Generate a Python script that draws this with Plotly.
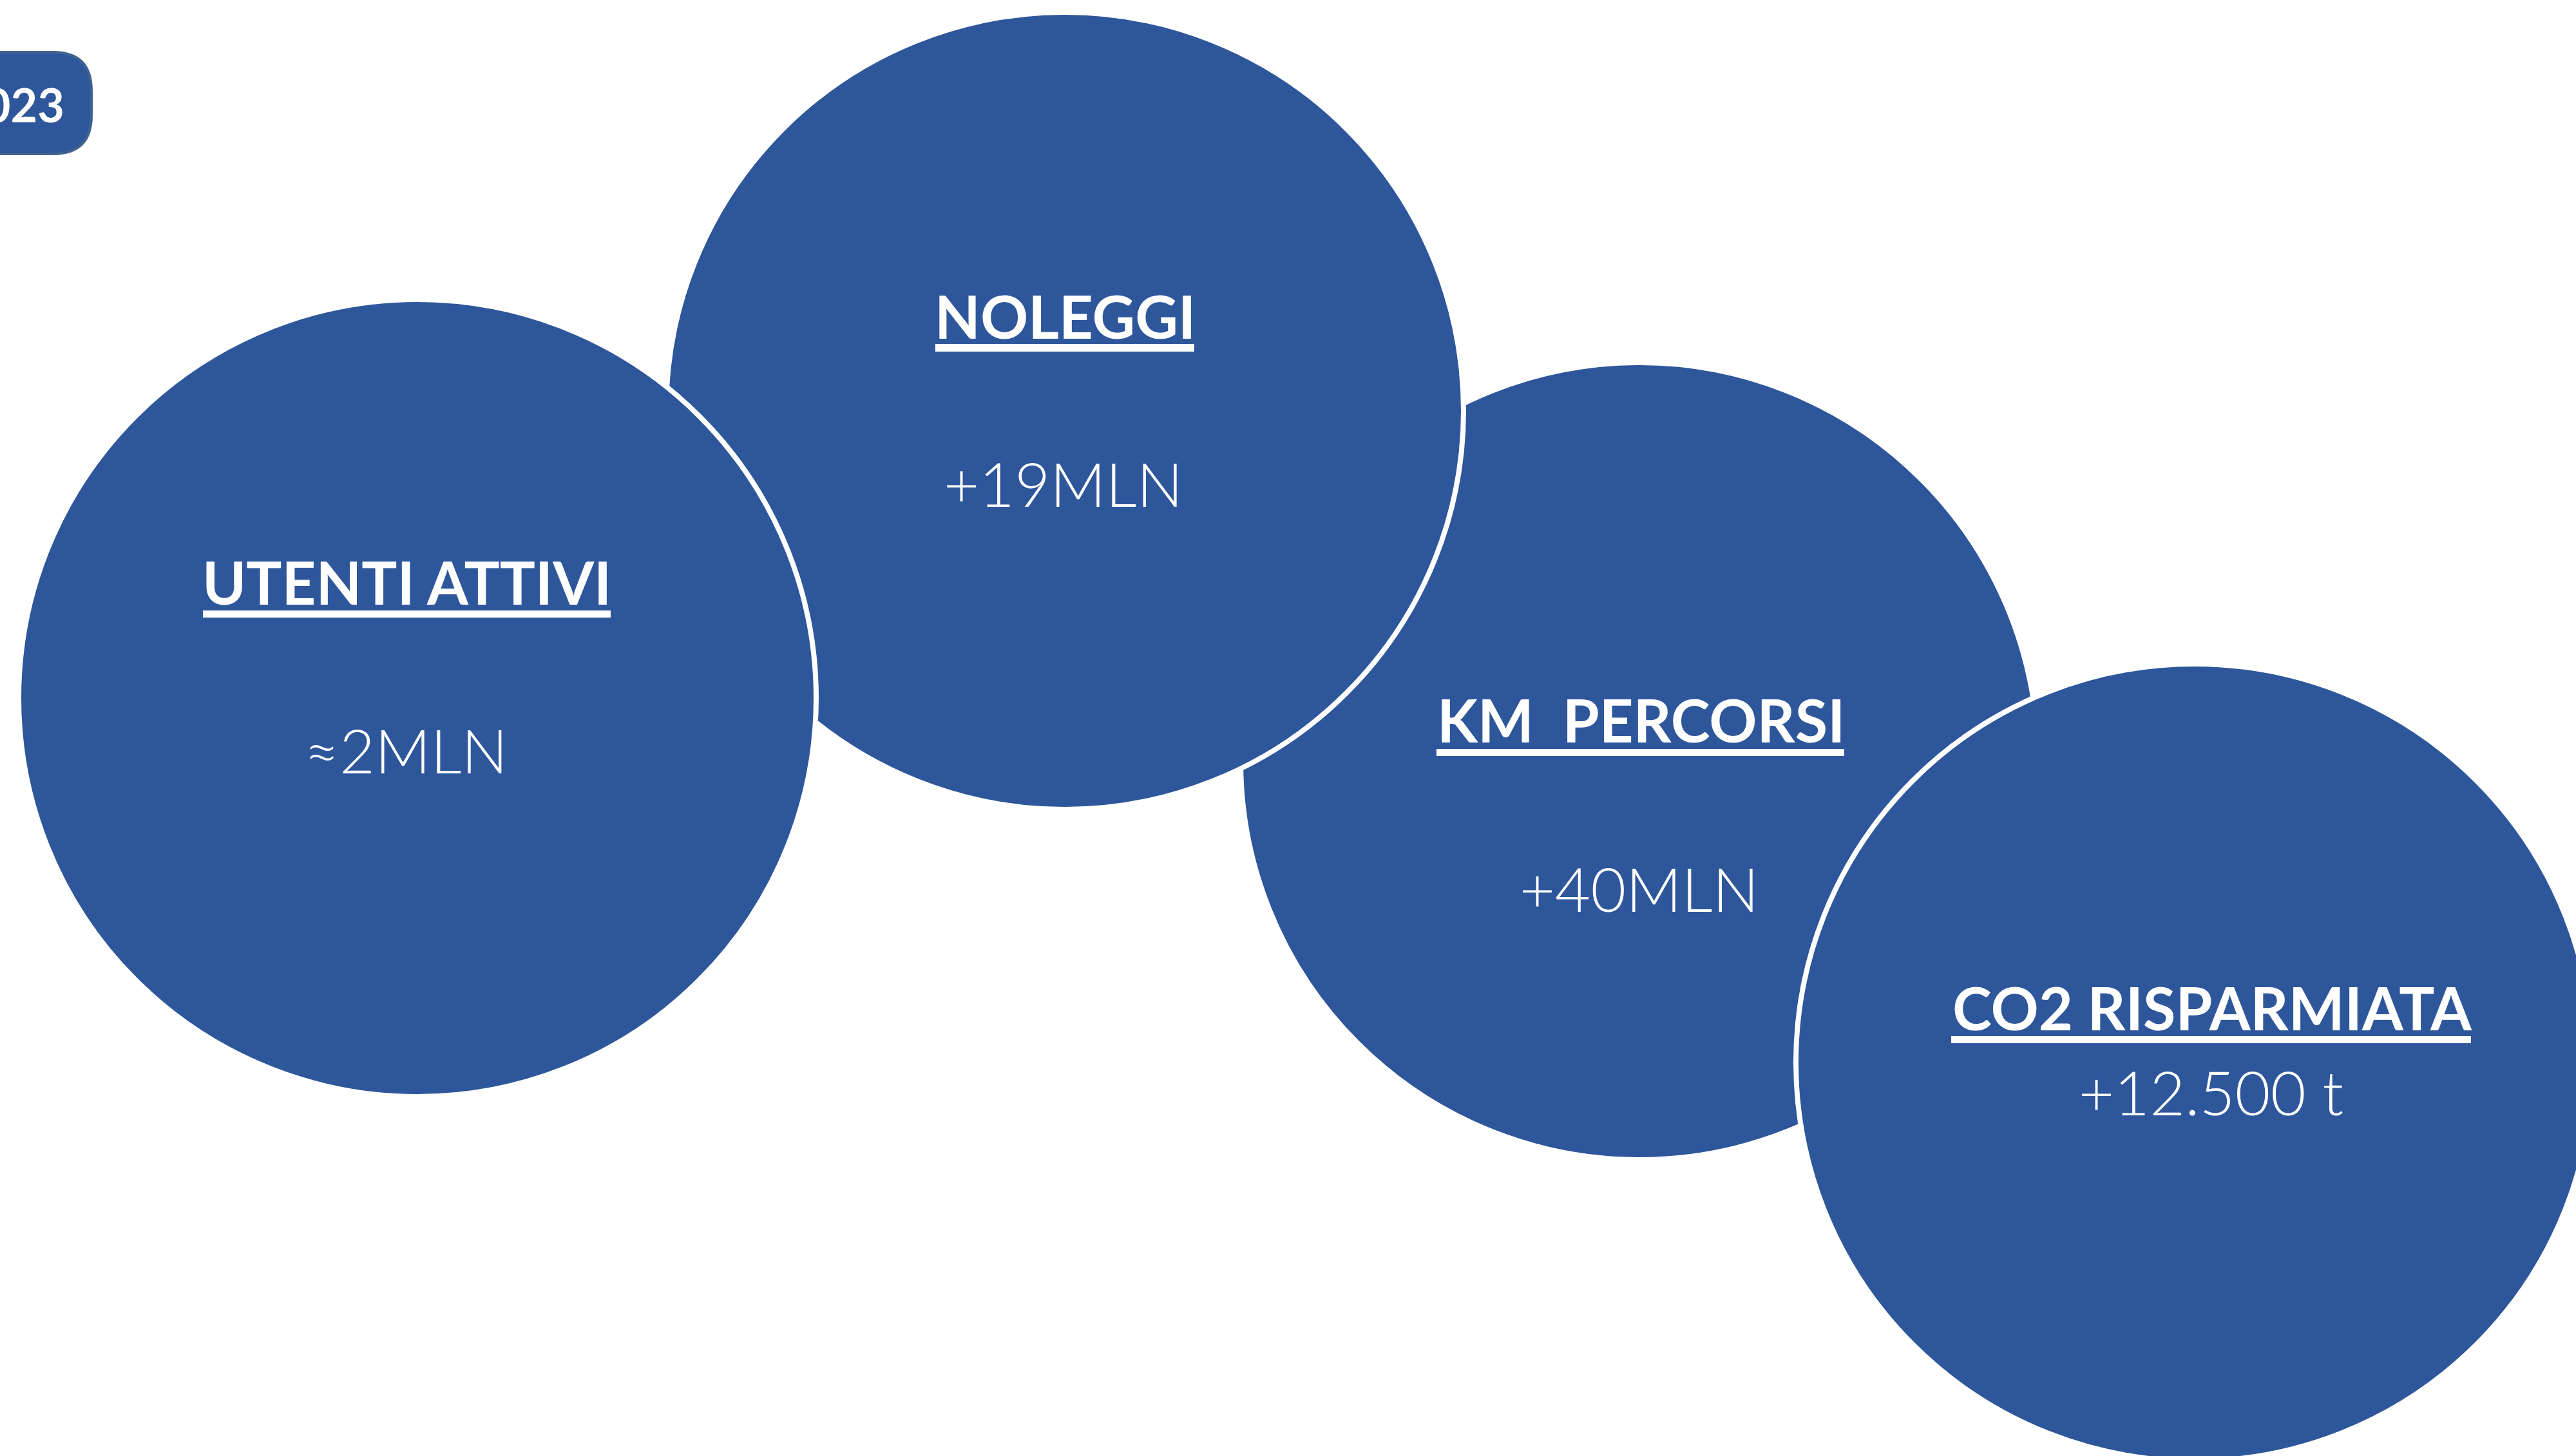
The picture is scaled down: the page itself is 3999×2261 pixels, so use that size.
import plotly.graph_objects as go

# ---- data (text content) ----
titles = ["UTENTI ATTIVI", "NOLEGGI", "KM\u00a0\u00a0PERCORSI", "CO2 RISPARMIATA"]
values = ["\u22482MLN", "+19MLN", "+40MLN", "+12.500 t"]
year_label = "2023"

# ---- layout constants (pixel-like coordinates) ----
W, H = 3999, 2261
BLUE = "#2E569B"
R = 619  # circle path radius (white outline 8px)
centers = [(648, 1084), (1653, 638), (2545, 1182), (3407, 1650)]
draw_order = [2, 1, 0, 3]
title_pos = [(631, 903), (1653, 490), (2547, 1117), (3434, 1564)]
value_pos = [(630, 1164), (1650, 750), (2544, 1379), (3432, 1695)]
underline = [(315, 948, 948, 959), (1452, 1854, 534, 546),
             (2230, 2863, 1163, 1174), (3029, 3836, 1609, 1620)]

fig = go.Figure()
shapes = []
for i in draw_order:
    cx, cy = centers[i]
    shapes.append(dict(type="circle", xref="x", yref="y",
                       x0=cx - R, x1=cx + R, y0=cy - R, y1=cy + R,
                       fillcolor=BLUE, line=dict(color="white", width=8)))
for (x0, x1, y0, y1) in underline:
    shapes.append(dict(type="rect", xref="x", yref="y", x0=x0, x1=x1, y0=y0, y1=y1,
                       fillcolor="white", line=dict(width=0)))

# year badge (rounded rectangle, partly off-canvas)
bx0, bx1, by0, by1, rr = -200, 142, 81, 239, 60
badge_path = (f"M {bx0},{by0} L {bx1-rr},{by0} Q {bx1},{by0} {bx1},{by0+rr} "
              f"L {bx1},{by1-rr} Q {bx1},{by1} {bx1-rr},{by1} L {bx0},{by1} Z")
shapes.append(dict(type="path", xref="x", yref="y", path=badge_path,
                   fillcolor=BLUE, line=dict(color="#41628F", width=4)))

annotations = []
for i in range(4):
    tx, ty = title_pos[i]
    annotations.append(dict(x=tx, y=ty, xref="x", yref="y", text=f"<b>{titles[i]}</b>",
                            showarrow=False, xanchor="center", yanchor="middle",
                            font=dict(family="Lato", size=92, color="white")))
    vx, vy = value_pos[i]
    annotations.append(dict(x=vx, y=vy, xref="x", yref="y", text=values[i],
                            showarrow=False, xanchor="center", yanchor="middle",
                            font=dict(family="Lato", size=95, color="white", weight=300)))
annotations.append(dict(x=102, y=162, xref="x", yref="y", text=f"<b>{year_label}</b>",
                        showarrow=False, xanchor="right", yanchor="middle",
                        font=dict(family="Lato", size=72, color="white")))

fig.update_layout(
    width=W, height=H, margin=dict(l=0, r=0, t=0, b=0, pad=0),
    paper_bgcolor="white", plot_bgcolor="white",
    xaxis=dict(range=[0, W], visible=False, fixedrange=True),
    yaxis=dict(range=[H, 0], visible=False, fixedrange=True),
    shapes=shapes, annotations=annotations, showlegend=False,
)

fig.write_html("out.html", config={"displayModeBar": False},
               post_script="document.body.style.margin='0';document.body.style.overflow='hidden';")
